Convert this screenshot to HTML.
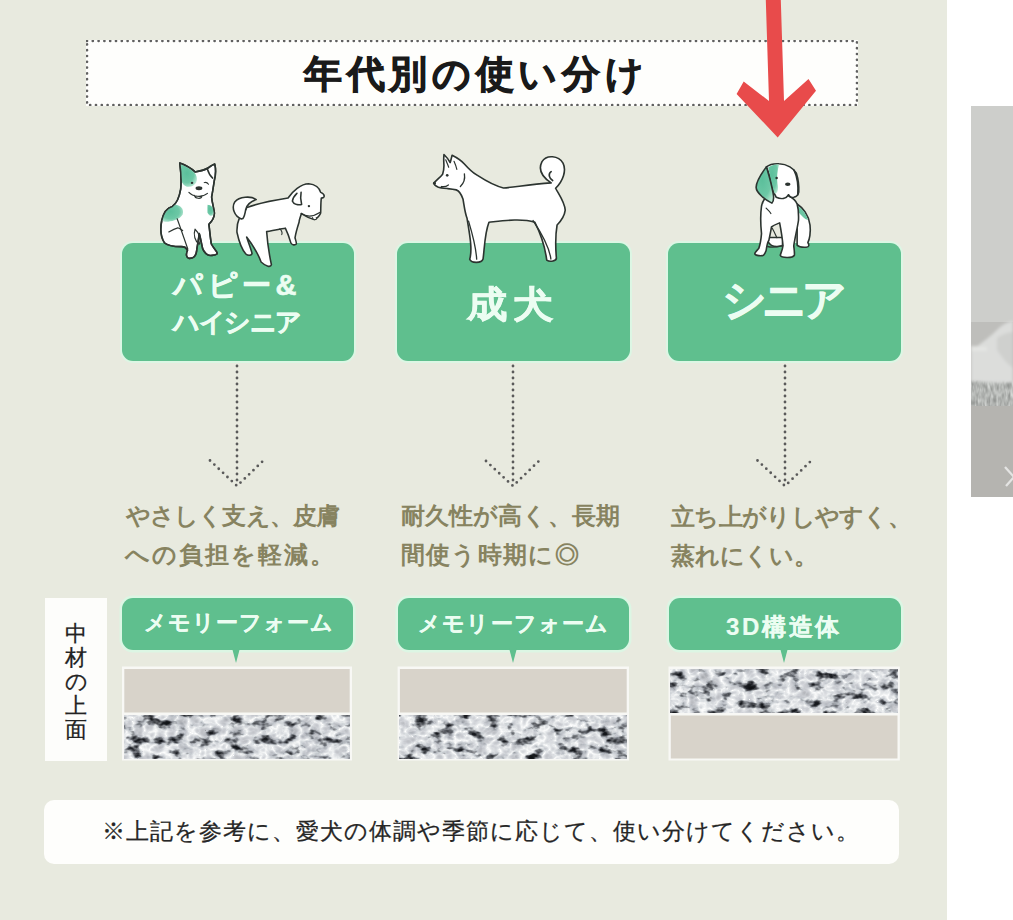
<!DOCTYPE html>
<html lang="ja">
<head>
<meta charset="utf-8">
<style>
html,body{margin:0;padding:0;}
body{width:1013px;height:920px;overflow:hidden;position:relative;background:#ffffff;font-family:"Liberation Sans",sans-serif;}
.abs{position:absolute;}
#panel{left:0;top:0;width:947px;height:920px;background:#e8eadf;}
#title{left:86px;top:40px;width:772px;height:66px;box-sizing:border-box;background:#fefefc;}
#title svg{position:absolute;left:0;top:0;}
.ttl{position:absolute;left:218px;top:1px;height:66px;line-height:66px;white-space:nowrap;font-size:38px;font-weight:bold;color:#1a1a1a;letter-spacing:4.7px;-webkit-text-stroke:0.9px #1a1a1a;}
.gbox{position:absolute;top:242.5px;height:118px;background:#5fbf8e;border-radius:11px;box-shadow:0 0 0 2px #dcf6e4;color:#ecfdf2;font-weight:bold;text-align:center;}
.t{position:absolute;white-space:nowrap;}
.wt{color:#ecfdf2;font-weight:bold;-webkit-text-stroke:0.6px #ecfdf2;}
.desc{font-size:24px;line-height:38px;font-weight:bold;color:#878360;height:38px;}
.bub{position:absolute;top:598.3px;height:51.5px;background:#5fbf8e;border-radius:11px;box-shadow:0 0 0 2.5px #dcf6e4;color:#ecfdf2;font-weight:bold;text-align:center;font-size:22px;line-height:52px;}
.bub:after{content:"";position:absolute;left:50%;bottom:-13.5px;margin-left:-4.8px;border-left:4.8px solid transparent;border-right:4.8px solid transparent;border-top:15px solid #5fbf8e;}
.mat{position:absolute;top:667px;height:93px;background:#fbfbf8;}
#label{left:45px;top:598px;width:62px;height:163px;background:#fdfdfb;}
#note{left:44px;top:800px;width:855px;height:64px;background:#fefefc;border-radius:10px;}
#note div{position:absolute;left:58px;top:-1px;line-height:64px;font-size:23px;color:#262626;white-space:nowrap;letter-spacing:1px;-webkit-text-stroke:0.25px #262626;}
#photo{left:971px;top:106px;width:42px;height:391px;background:#cfd0cd;overflow:hidden;}
</style>
</head>
<body>
<div id="panel" class="abs"></div>

<div id="title" class="abs">
  <svg width="772" height="66"><rect x="1" y="1" width="770" height="64" fill="none" stroke="#606060" stroke-width="2.7" stroke-dasharray="0 5.8" stroke-linecap="round"/></svg>
  <div class="ttl">年代別の使い分け</div>
</div>

<div class="gbox" style="left:122px;width:232px;"></div>
<div class="gbox" style="left:397px;width:233px;"></div>
<div class="gbox" style="left:668px;width:233px;"></div>
<div class="t wt" style="left:173px;top:268px;font-size:29px;line-height:34px;letter-spacing:4.5px;">パピー&amp;</div>
<div class="t wt" style="left:173px;top:306px;font-size:26px;line-height:32px;letter-spacing:-1.5px;">ハイシニア</div>
<div class="t wt" style="left:467px;top:282.5px;font-size:37px;line-height:44px;letter-spacing:5.5px;transform:scaleX(1.09);transform-origin:0 0;">成犬</div>
<div class="t wt" style="left:722px;top:274.5px;font-size:44px;line-height:50px;letter-spacing:-5px;">シニア</div>
<svg class="abs" style="left:0;top:0;" width="947" height="300"><!--DOGS-->
<g id="dog1" transform="translate(150 150) scale(0.13055)" stroke="#2c3430" stroke-width="12" stroke-linejoin="round" stroke-linecap="round">
  <defs>
    <radialGradient id="gp1" cx="0.4" cy="0.4" r="0.7"><stop offset="0" stop-color="#5bbf9b"/><stop offset="0.6" stop-color="#6dc8a6"/><stop offset="1" stop-color="#c4ecdb"/></radialGradient>
  </defs>
  <path fill="#ffffff" d="M228,100 C270,115 315,140 345,168 C385,162 420,152 440,140 C460,128 478,112 496,108 C506,150 502,200 492,238 C486,275 480,320 472,360 C475,400 488,440 493,480 C496,520 470,550 451,569 C458,620 462,680 470,720 C490,760 520,780 515,795 C500,810 450,810 440,802 C420,790 400,760 400,740 C390,700 385,660 377,640 C372,690 360,740 356,781 C350,815 335,832 300,830 C280,828 272,800 287,770 C280,750 260,740 240,740 C180,740 130,730 110,710 C85,670 78,600 90,540 C105,470 140,440 171,432 C205,410 225,360 235,300 C240,250 236,160 228,100 Z"/>
  <path fill="url(#gp1)" stroke="none" d="M232,108 C275,125 318,150 342,176 C362,200 372,245 332,272 C300,292 262,282 246,248 C236,200 230,150 232,108 Z"/>
  <path fill="url(#gp1)" stroke="none" d="M92,540 C110,470 150,440 200,420 C240,425 262,460 250,495 C230,530 180,545 140,550 C115,552 98,548 92,540 Z"/>
  <path fill="url(#gp1)" stroke="none" d="M440,420 C470,420 488,445 492,480 C480,515 455,510 440,480 Z"/>
  <path fill="none" d="M228,100 C270,115 315,140 345,168 C385,162 420,152 440,140 C460,128 478,112 496,108 C506,150 502,200 492,238 C486,275 480,320 472,360 C475,400 488,440 493,480 C496,520 470,550 451,569 C458,620 462,680 470,720 C490,760 520,780 515,795 C500,810 450,810 440,802 C420,790 400,760 400,740 C390,700 385,660 377,640 C372,690 360,740 356,781 C350,815 335,832 300,830 C280,828 272,800 287,770 C280,750 260,740 240,740 C180,740 130,730 110,710 C85,670 78,600 90,540 C105,470 140,440 171,432 C205,410 225,360 235,300 C240,250 236,160 228,100 Z"/>
  <path fill="none" d="M440,148 C448,175 462,200 480,215"/>
  <path fill="none" stroke-width="9" d="M144,628 C170,612 195,600 213,596 C225,600 240,610 250,617"/>
  <path fill="none" stroke-width="9" d="M208,527 C235,600 265,690 290,760"/>
  <path fill="none" stroke-width="9" d="M345,607 C330,650 345,700 377,722 C392,690 382,640 345,607 Z"/>
  <ellipse cx="322" cy="252" rx="10" ry="8" fill="#2c3430" stroke="none"/>
  <path fill="none" stroke-width="8" d="M415,250 C428,245 440,250 448,262"/>
  <ellipse cx="375" cy="293" rx="26" ry="15" fill="#2c3430" stroke="none"/>
  <path fill="#ffffff" stroke-width="9" d="M298,325 C325,355 395,370 440,332 M340,348 C345,375 395,378 398,352"/>
</g>
<g id="dog2" transform="translate(225 175) scale(0.1087)" stroke="#2c3430" stroke-width="14.4" stroke-linejoin="round" stroke-linecap="round">
  <path fill="#ffffff" d="M200,300 C300,262 450,232 580,212 C620,150 700,80 770,80 C830,85 870,120 880,160 C920,175 925,212 886,212 C880,260 882,320 880,350 C870,380 842,400 820,410 C780,400 740,380 702,356 C690,400 680,420 682,432 C660,500 650,540 644,578 C650,600 660,625 656,635 C640,650 610,640 605,622 C590,570 570,520 555,489 C500,500 430,515 383,521 C389,600 400,700 427,826 C420,850 380,845 332,800 C310,740 260,650 199,571 C225,650 245,700 249,724 C235,745 210,740 190,725 C160,690 130,620 110,527 C108,470 118,430 129,406 C160,370 190,330 200,300 Z"/>
  <path fill="#ffffff" d="M150,405 C85,380 58,300 90,248 C130,198 240,190 287,226 C240,242 200,272 190,320 C185,350 180,380 165,400 Z"/>
  <path fill="none" d="M700,160 C692,200 696,240 705,272 C670,278 632,268 620,240 C624,205 650,180 662,168"/>
  <circle cx="772" cy="286" r="11" fill="#2c3430" stroke="none"/>
  <path fill="none" stroke-width="11" d="M700,352 C740,380 800,392 872,345"/>
  <path fill="#ffffff" stroke-width="10" d="M805,392 C808,415 840,420 845,395"/>
  <path fill="none" stroke-width="10" d="M504,495 C520,510 530,530 522,548"/>
</g>
<g id="dog3" transform="translate(425 145) scale(0.14808)" stroke="#2c3430" stroke-width="11" stroke-linejoin="round" stroke-linecap="round">
  <path fill="#ffffff" d="M852,256 C800,222 760,172 790,112 C822,62 902,72 932,122 C957,172 932,242 882,292 C902,332 942,382 947,440 C942,480 912,520 892,540 C882,600 882,700 887,760 C892,785 842,792 822,777 C812,700 782,600 742,522 C652,492 522,512 432,522 C402,600 402,700 392,770 C382,800 312,800 302,772 C322,700 300,600 284,495 C270,460 266,420 257,367 C245,330 230,310 211,303 C190,298 170,296 151,294 C120,292 100,290 87,284 C75,278 62,270 60,257 C80,235 105,215 119,197 C125,180 128,160 128,138 C126,110 126,85 128,64 C145,80 160,100 170,119 C175,100 180,85 183,69 C215,85 245,105 266,128 C290,155 320,185 349,202 C400,235 460,275 530,290 C600,285 700,268 852,256 Z"/>
  <path fill="none" d="M852,180 C830,195 838,225 862,240"/>
  <path fill="none" stroke-width="9" d="M294,514 C320,600 345,700 349,771"/>
  <path fill="none" stroke-width="9" d="M730,510 C790,600 840,690 850,770"/>
  <path fill="none" stroke-width="9" d="M239,280 C262,258 272,230 266,195"/>
  <path fill="none" stroke-width="8" d="M140,100 C148,120 155,135 160,150"/>
  <path fill="none" stroke-width="8" d="M196,110 C205,130 212,150 215,165"/>
  <circle cx="150" cy="205" r="9" fill="#2c3430" stroke="none"/>
  <circle cx="64" cy="258" r="10" fill="#2c3430" stroke="none"/>
  <path fill="none" stroke-width="8" d="M110,280 C128,284 145,280 158,270"/>
</g>
<g id="dog4" transform="translate(740 150) scale(0.125)" stroke="#2c3430" stroke-width="12.8" stroke-linejoin="round" stroke-linecap="round">
  <defs>
    <radialGradient id="gp4" cx="0.35" cy="0.35" r="0.75"><stop offset="0" stop-color="#5bbf9b"/><stop offset="0.65" stop-color="#6dc8a6"/><stop offset="1" stop-color="#b8e8d2"/></radialGradient>
  </defs>
  <path fill="#ffffff" d="M457,432 C500,460 550,520 560,600 C568,660 555,720 543,740 C555,760 555,775 530,778 C500,780 470,775 457,761 Z"/>
  <path fill="#6cc6a3" stroke="none" d="M462,445 C500,470 530,510 545,560 C515,555 490,520 470,500 Z"/>
  <path fill="#ffffff" d="M209,700 C230,760 260,785 339,766 L344,700 Z"/>
  <path fill="#ffffff" d="M260,330 C200,380 182,400 172,450 C160,535 165,600 172,669 C168,720 160,760 150,788 C135,805 118,820 118,831 C125,848 175,848 188,842 C200,830 205,815 209,804 C215,760 225,730 231,723 C240,680 248,640 252,615 C270,600 300,590 317,583 C330,650 340,720 344,766 C340,800 325,830 322,842 C330,865 420,868 435,842 C438,820 432,790 430,766 C440,700 460,620 468,562 C470,500 465,460 457,432 C440,380 320,320 260,330 Z"/>
  <path fill="#ffffff" d="M211,135 C240,112 280,108 312,110 C380,112 430,150 451,186 C465,230 472,300 470,337 C465,360 450,372 438,375 C420,385 400,380 388,358 C370,390 330,396 290,378 C272,352 262,320 255,290 C245,240 230,180 211,135 Z"/>
  <path fill="url(#gp4)" stroke="none" d="M225,140 C255,118 290,112 312,118 C300,160 292,220 300,270 C310,320 300,345 280,350 C262,320 250,260 240,210 Z"/>
  <path fill="url(#gp4)" d="M211,135 C170,190 130,260 129,299 C130,340 200,400 255,425 C272,410 272,380 264,340 C252,280 238,220 223,175 Z"/>
  <path fill="none" d="M432,160 C455,210 468,290 462,360"/>
  <circle cx="293" cy="223" r="10" fill="#2c3430" stroke="none"/>
  <ellipse cx="382" cy="274" rx="22" ry="14" fill="#2c3430" stroke="none"/>
  <path fill="none" stroke-width="9.6" d="M209,465 C225,480 240,495 247,508"/>
  <path fill="none" stroke-width="9.6" d="M258,626 C272,650 285,680 295,702"/>
  <path fill="none" stroke-width="11" d="M222,772 C260,785 300,775 340,766"/>
</g>

<!--/DOGS--></svg>
<svg class="abs" style="left:0;top:0;" width="947" height="500">
  <g fill="none" stroke="#5a5a5a" stroke-width="2.8" stroke-linecap="round" stroke-dasharray="0 6">
    <path d="M237 366 V485 M210 460.5 L237 486 L265.5 458.5"/>
    <path d="M513 366 V485 M486 461 L513 486 L541.5 458.5"/>
    <path d="M785 366 V485 M757.5 460.5 L785 486 L813 459"/>
  </g>
</svg>

<div class="t desc" style="left:125.5px;top:497px;letter-spacing:-0.8px;">やさしく支え、皮膚</div>
<div class="t desc" style="left:125px;top:535.5px;letter-spacing:2px;">への負担を軽減。</div>
<div class="t desc" style="left:400.5px;top:497px;letter-spacing:0.2px;">耐久性が高く、長期</div>
<div class="t desc" style="left:400.8px;top:535.5px;letter-spacing:1.3px;">間使う時期に◎</div>
<div class="t desc" style="left:671px;top:498px;letter-spacing:-0.7px;">立ち上がりしやすく、</div>
<div class="t desc" style="left:671px;top:537px;letter-spacing:-0.25px;">蒸れにくい。</div>
<div id="label" class="abs"><div style="position:absolute;left:0;right:0;top:24px;text-align:center;font-size:22px;line-height:24px;color:#222;-webkit-text-stroke:0.25px #222;">中<br>材<br>の<br>上<br>面</div></div>

<div class="bub" style="left:121.5px;width:231.5px;"></div>
<div class="bub" style="left:398px;width:231.4px;"></div>
<div class="bub" style="left:668.5px;width:232.5px;"></div>
<div class="t wt" style="left:143.5px;top:610px;font-size:22px;line-height:26px;letter-spacing:1px;-webkit-text-stroke:0.2px #ecfdf2;">メモリーフォーム</div>
<div class="t wt" style="left:418px;top:611px;font-size:22px;line-height:26px;letter-spacing:1.2px;-webkit-text-stroke:0.2px #ecfdf2;">メモリーフォーム</div>
<div class="t wt" style="left:726px;top:614px;font-size:24px;line-height:26px;letter-spacing:2.7px;-webkit-text-stroke:0.2px #ecfdf2;">3D構造体</div>
<svg class="abs" style="left:0;top:0;" width="947" height="780">
<defs>
<filter id="spots" x="0" y="0" width="100%" height="100%" color-interpolation-filters="sRGB">
  <feTurbulence type="fractalNoise" baseFrequency="0.07 0.11" numOctaves="3" seed="7" result="n"/>
  <feColorMatrix in="n" type="matrix" values="1 0 0 0 0  1 0 0 0 0  1 0 0 0 0  0 0 0 0 1" result="g"/>
  <feComponentTransfer in="g" result="sp">
    <feFuncR type="table" tableValues="0.05 0.07 0.12 0.48 0.9 1 1 1 1 1"/>
    <feFuncG type="table" tableValues="0.06 0.08 0.13 0.49 0.91 1 1 1 1 1"/>
    <feFuncB type="table" tableValues="0.07 0.09 0.15 0.51 0.92 1 1 1 1 1"/>
  </feComponentTransfer>
  <feTurbulence type="turbulence" baseFrequency="0.09 0.11" numOctaves="2" seed="4" result="t"/>
  <feColorMatrix in="t" type="matrix" values="1 0 0 0 0  1 0 0 0 0  1 0 0 0 0  0 0 0 0 1" result="tg"/>
  <feComponentTransfer in="tg" result="vein">
    <feFuncR type="table" tableValues="1 0.89 0.81 0.75 0.68 0.62"/>
    <feFuncG type="table" tableValues="1 0.9 0.82 0.76 0.69 0.63"/>
    <feFuncB type="table" tableValues="1 0.91 0.84 0.78 0.71 0.65"/>
  </feComponentTransfer>
  <feBlend in="sp" in2="vein" mode="multiply"/>
</filter>
<filter id="grain" x="0" y="0" width="100%" height="100%" color-interpolation-filters="sRGB">
  <feTurbulence type="fractalNoise" baseFrequency="0.9" numOctaves="1" seed="2" result="n"/>
  <feColorMatrix in="n" type="matrix" values="0 0 0 0 0  0 0 0 0 0  0 0 0 0 0  1 0 0 0 -0.3" result="a"/>
  <feComposite in="a" in2="SourceGraphic" operator="in" result="na"/>
  <feBlend in="SourceGraphic" in2="na" mode="normal"/>
</filter>
</defs>
<rect x="122" y="666.5" width="230" height="94" fill="#f8f8f5"/>
<rect x="124.3" y="669" width="225.4" height="43.5" fill="#d8d3ca"/>
<rect x="124.3" y="715.5" width="225.4" height="43" filter="url(#spots)"/>
<rect x="397.6" y="666.5" width="231.4" height="94" fill="#f8f8f5"/>
<rect x="399.9" y="669" width="226.8" height="43.5" fill="#d8d3ca"/>
<rect x="399.9" y="715.5" width="226.8" height="43" filter="url(#spots)"/>
<rect x="668.5" y="666.5" width="231.3" height="94" fill="#f8f8f5"/>
<rect x="670.8" y="669" width="226.7" height="43.5" filter="url(#spots)"/>
<rect x="670.8" y="715.5" width="226.7" height="43" fill="#d8d3ca"/>
</svg>
<div id="note" class="abs"><div>※上記を参考に、愛犬の体調や季節に応じて、使い分けてください。</div></div>

<svg class="abs" style="left:971px;top:106px;" width="42" height="391">
<defs>
<filter id="blur1" x="-20%" y="-20%" width="140%" height="140%"><feGaussianBlur stdDeviation="1.8"/></filter>
<filter id="fringe" x="0" y="0" width="100%" height="100%" color-interpolation-filters="sRGB">
  <feTurbulence type="fractalNoise" baseFrequency="0.35 0.12" numOctaves="2" seed="9"/>
  <feColorMatrix type="matrix" values="1 0 0 0 0  1 0 0 0 0  1 0 0 0 0  0 0 0 0 1"/>
  <feComponentTransfer><feFuncR type="table" tableValues="0.5 0.6 0.7 0.8 0.9"/><feFuncG type="table" tableValues="0.51 0.61 0.71 0.81 0.91"/><feFuncB type="table" tableValues="0.5 0.6 0.7 0.8 0.9"/></feComponentTransfer>
  <feGaussianBlur stdDeviation="0.6"/>
</filter>
</defs>
<rect width="42" height="391" fill="#cdcecb"/>
<rect y="216" width="42" height="90" fill="#bebebb"/>
<rect y="299" width="42" height="92" fill="#b5b4b0"/>
<rect y="274" width="42" height="26" filter="url(#fringe)"/>
<g filter="url(#blur1)">
<path d="M0 244 C10 238 20 230 28 222 C34 217 39 215 42 215 L42 276 C30 278 14 276 0 275 Z" fill="#dcdddb"/>
<path d="M0 240 L16 241 L16 245 L0 245 Z" fill="#e4e5e3"/>
<path d="M26 232 C32 228 38 226 42 226 L42 262 C36 258 30 250 26 244 Z" fill="#cfd0ce"/>
</g>
<path d="M34 361 L43 371 L35 380" fill="none" stroke="#e4e4e3" stroke-width="2.3"/>
</svg>

<svg class="abs" style="left:0;top:0;" width="1013" height="150">
  <path d="M765.8 0 L780.8 0 L784 101 L808.5 79 L816 90.8 L777.7 137.4 L736.6 94 L743.7 81.4 L769 101 Z" fill="#e84b4b"/>
</svg>
</body>
</html>
